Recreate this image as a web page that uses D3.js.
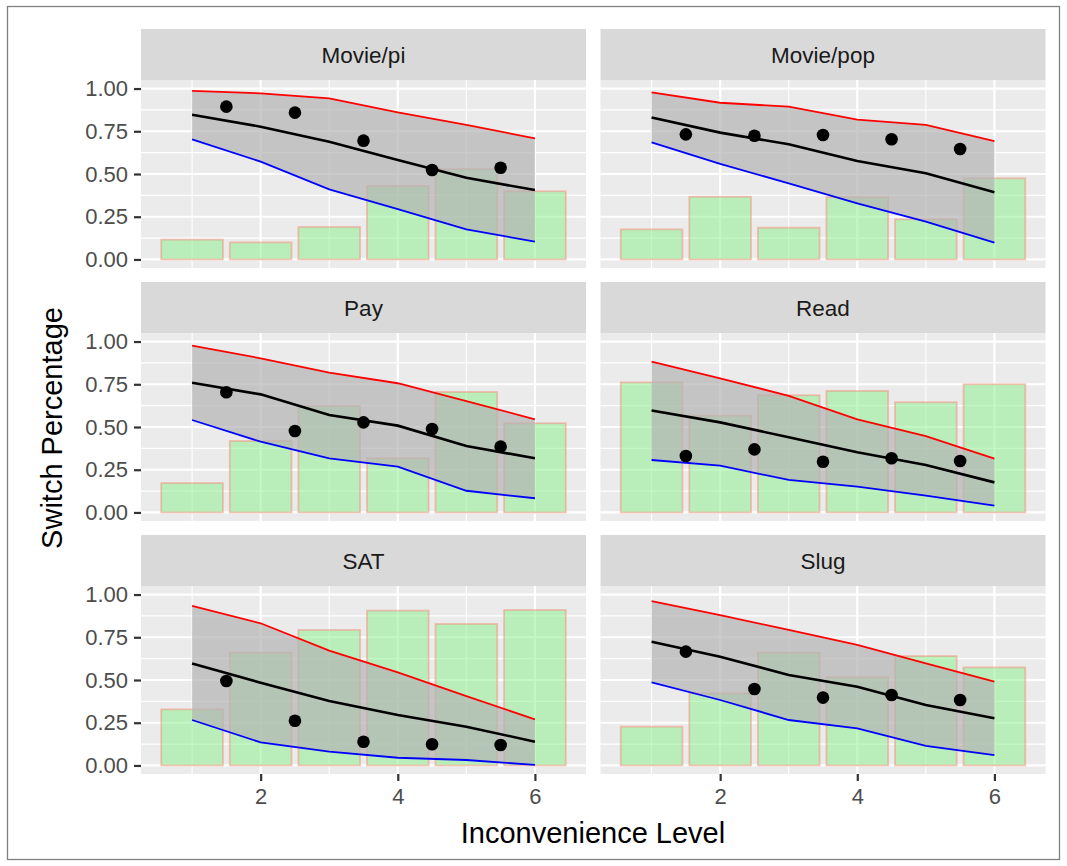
<!DOCTYPE html>
<html>
<head>
<meta charset="utf-8">
<script src="https://cdn.jsdelivr.net/npm/d3@7"></script>
<style>
  html, body { margin: 0; padding: 0; background: #ffffff; }
  svg { display: block; }
  text { font-family: "Liberation Sans", Arial, Helvetica, sans-serif; }
</style>
</head>
<body>
<svg id="chart" width="1067" height="866"></svg>
<script>
// ---- data ----
const facets = ["Movie/pi", "Movie/pop", "Pay", "Read", "SAT", "Slug"];
const levels = [1, 2, 3, 4, 5, 6];
const pointLevels = [1.5, 2.5, 3.5, 4.5, 5.5];
const yTicks = [0, 0.25, 0.5, 0.75, 1.0];
const yTickLabels = ["0.00", "0.25", "0.50", "0.75", "1.00"];
const xTicks = [2, 4, 6];
const xTickLabels = ["2", "4", "6"];

// bar heights per facet (levels 1..6)
const barPct = [
  [0.116, 0.100, 0.190, 0.430, 0.529, 0.399],
  [0.176, 0.367, 0.186, 0.364, 0.235, 0.475],
  [0.172, 0.418, 0.623, 0.317, 0.705, 0.522],
  [0.761, 0.566, 0.686, 0.711, 0.645, 0.750],
  [0.328, 0.660, 0.793, 0.906, 0.828, 0.910],
  [0.227, 0.422, 0.660, 0.516, 0.640, 0.574]
];
// upper band (red line)
const upperPct = [
  [0.986, 0.972, 0.943, 0.861, 0.787, 0.709],
  [0.978, 0.917, 0.894, 0.818, 0.787, 0.693],
  [0.976, 0.902, 0.818, 0.756, 0.652, 0.545],
  [0.882, 0.785, 0.682, 0.545, 0.447, 0.315],
  [0.933, 0.832, 0.672, 0.545, 0.406, 0.270],
  [0.962, 0.880, 0.793, 0.705, 0.597, 0.490]
];
// fitted (black line)
const fittedPct = [
  [0.847, 0.777, 0.689, 0.582, 0.478, 0.406],
  [0.830, 0.742, 0.674, 0.576, 0.504, 0.393],
  [0.759, 0.691, 0.570, 0.508, 0.389, 0.317],
  [0.596, 0.527, 0.440, 0.352, 0.278, 0.176],
  [0.597, 0.484, 0.377, 0.295, 0.227, 0.139],
  [0.724, 0.636, 0.529, 0.461, 0.354, 0.276]
];
// lower band (blue line)
const lowerPct = [
  [0.703, 0.572, 0.410, 0.295, 0.176, 0.104],
  [0.685, 0.559, 0.445, 0.328, 0.221, 0.098],
  [0.541, 0.414, 0.317, 0.268, 0.127, 0.083],
  [0.307, 0.274, 0.190, 0.151, 0.098, 0.040],
  [0.266, 0.135, 0.081, 0.045, 0.032, 0.003],
  [0.486, 0.383, 0.266, 0.217, 0.114, 0.061]
];
// observed points (at x = 1.5 .. 5.5)
const observedPct = [
  [0.894, 0.859, 0.695, 0.523, 0.537],
  [0.732, 0.724, 0.728, 0.703, 0.646],
  [0.703, 0.477, 0.527, 0.488, 0.385],
  [0.330, 0.369, 0.297, 0.317, 0.301],
  [0.494, 0.262, 0.139, 0.124, 0.120],
  [0.666, 0.447, 0.397, 0.412, 0.383]
];

// ---- layout ----
const svg = d3.select("#chart");
const W = 1067, H = 866;
const colLeft = [141, 600.5];
const panelW = 445;
const stripTop0 = 29, stripH = 51, panelH = 188, rowStep = 253;
const fontMain = '"Liberation Sans", Arial, Helvetica, sans-serif';

svg.append("rect").attr("width", W).attr("height", H).attr("fill", "#ffffff");
svg.append("rect")
  .attr("x", 7.5).attr("y", 6.5).attr("width", W - 15).attr("height", H - 13)
  .attr("fill", "none").attr("stroke", "#808080").attr("stroke-width", 1.3);

facets.forEach((name, fi) => {
  const col = fi % 2, row = Math.floor(fi / 2);
  const left = colLeft[col];
  const stripTop = stripTop0 + row * rowStep;
  const top = stripTop + stripH;

  const x = d3.scaleLinear().domain([0.255, 6.745]).range([left, left + panelW]);
  const y = d3.scaleLinear().domain([-0.05, 1.05]).range([top + panelH, top]);

  const g = svg.append("g");

  // strip
  g.append("rect").attr("x", left).attr("y", stripTop).attr("width", panelW).attr("height", stripH)
    .attr("fill", "#D9D9D9");
  g.append("text").attr("x", left + panelW / 2).attr("y", stripTop + stripH / 2 + 8.2)
    .attr("text-anchor", "middle").attr("font-size", 22.5).attr("fill", "#1A1A1A").text(name);

  // panel background
  g.append("rect").attr("x", left).attr("y", top).attr("width", panelW).attr("height", panelH)
    .attr("fill", "#EBEBEB");

  // minor grid
  const yMinor = [0.125, 0.375, 0.625, 0.875];
  const xMinor = [1, 3, 5];
  g.selectAll(".ymin").data(yMinor).enter().append("line")
    .attr("x1", left).attr("x2", left + panelW).attr("y1", d => y(d)).attr("y2", d => y(d))
    .attr("stroke", "#ffffff").attr("stroke-width", 1.1);
  g.selectAll(".xmin").data(xMinor).enter().append("line")
    .attr("y1", top).attr("y2", top + panelH).attr("x1", d => x(d)).attr("x2", d => x(d))
    .attr("stroke", "#ffffff").attr("stroke-width", 1.1);
  // major grid
  g.selectAll(".ymaj").data(yTicks).enter().append("line")
    .attr("x1", left).attr("x2", left + panelW).attr("y1", d => y(d)).attr("y2", d => y(d))
    .attr("stroke", "#ffffff").attr("stroke-width", 2.2);
  g.selectAll(".xmaj").data(xTicks).enter().append("line")
    .attr("y1", top).attr("y2", top + panelH).attr("x1", d => x(d)).attr("x2", d => x(d))
    .attr("stroke", "#ffffff").attr("stroke-width", 2.2);

  // bars
  g.selectAll(".bar").data(barPct[fi]).enter().append("rect")
    .attr("x", (d, i) => x(levels[i] - 0.45))
    .attr("width", (d, i) => x(levels[i] + 0.45) - x(levels[i] - 0.45))
    .attr("y", d => y(d))
    .attr("height", d => y(0) - y(d))
    .attr("fill", "rgba(144,238,144,0.55)")
    .attr("stroke", "rgba(250,128,114,0.45)")
    .attr("stroke-width", 1.8);

  // ribbon
  const area = d3.area()
    .x((d, i) => x(levels[i]))
    .y0((d, i) => y(lowerPct[fi][i]))
    .y1((d, i) => y(upperPct[fi][i]));
  g.append("path").datum(levels).attr("d", area)
    .attr("fill", "rgba(179,179,179,0.7)");

  const line = arr => d3.line().x((d, i) => x(levels[i])).y(d => y(d))(arr);
  g.append("path").attr("d", line(upperPct[fi])).attr("fill", "none")
    .attr("stroke", "#FF0000").attr("stroke-width", 1.8);
  g.append("path").attr("d", line(lowerPct[fi])).attr("fill", "none")
    .attr("stroke", "#0000FF").attr("stroke-width", 1.8);
  g.append("path").attr("d", line(fittedPct[fi])).attr("fill", "none")
    .attr("stroke", "#000000").attr("stroke-width", 2.6);

  // points
  g.selectAll(".pt").data(observedPct[fi]).enter().append("circle")
    .attr("cx", (d, i) => x(pointLevels[i])).attr("cy", d => y(d)).attr("r", 6.3)
    .attr("fill", "#000000");

  // axes
  if (col === 0) {
    const ax = g.append("g").attr("transform", `translate(${left},0)`)
      .call(d3.axisLeft(y).tickValues(yTicks).tickFormat((d, i) => yTickLabels[i])
        .tickSize(7).tickPadding(6));
    ax.select(".domain").remove();
    ax.selectAll("line").attr("stroke", "#333333").attr("stroke-width", 2.2);
    ax.selectAll("text").attr("font-size", 22).attr("fill", "#4D4D4D")
      .attr("font-family", fontMain);
  }
  if (row === 2) {
    const ax = g.append("g").attr("transform", `translate(0,${top + panelH})`)
      .call(d3.axisBottom(x).tickValues(xTicks).tickFormat((d, i) => xTickLabels[i])
        .tickSize(7).tickPadding(7));
    ax.select(".domain").remove();
    ax.selectAll("line").attr("stroke", "#333333").attr("stroke-width", 2.2);
    ax.selectAll("text").attr("font-size", 22).attr("fill", "#4D4D4D")
      .attr("font-family", fontMain);
  }
});

// axis titles
svg.append("text").attr("x", 593).attr("y", 843).attr("text-anchor", "middle")
  .attr("font-size", 29).attr("fill", "#000000").text("Inconvenience Level");
svg.append("text").attr("transform", "translate(62,428) rotate(-90)").attr("text-anchor", "middle")
  .attr("font-size", 29).attr("fill", "#000000").text("Switch Percentage");
</script>
</body>
</html>
